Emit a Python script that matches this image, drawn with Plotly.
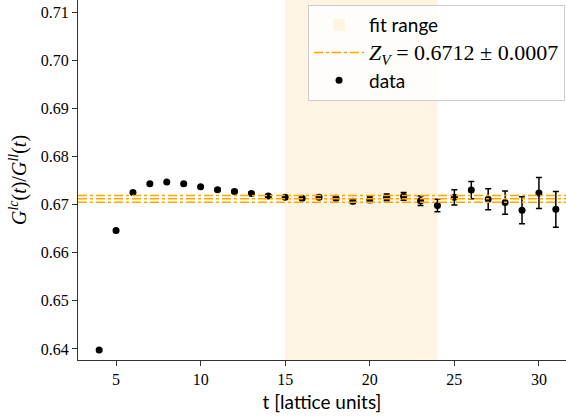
import plotly.graph_objects as go

t = list(range(4, 32))
ratio = [0.6398, 0.6646, 0.6725, 0.6743, 0.6747, 0.6743, 0.6737, 0.6731,
         0.6727, 0.6723, 0.6718, 0.6715, 0.6713, 0.6715, 0.6713, 0.6707,
         0.6710, 0.6715, 0.6717, 0.6708, 0.6698, 0.6715, 0.6730, 0.6711,
         0.6704, 0.6688, 0.6724, 0.6690]
err = [0.0002, 0.0002, 0.0002, 0.0002, 0.0002, 0.0002, 0.0002, 0.0003,
       0.0003, 0.0003, 0.0003, 0.0003, 0.0003, 0.0004, 0.0004, 0.0005,
       0.0006, 0.0007, 0.0008, 0.0010, 0.0013, 0.0016, 0.0018, 0.0022,
       0.0024, 0.0028, 0.0032, 0.0037]
fit_range = [15, 24]
ZV = 0.6712
ZV_err = 0.0007

ORANGE = "#ffa500"
SHADE = "#fdf4e3"
serif = "Liberation Serif"
sans = "Lato"

fig = go.Figure()

# fit range shading
fig.add_shape(type="rect", xref="x", yref="paper", x0=fit_range[0], x1=fit_range[1],
              y0=0, y1=1, fillcolor=SHADE, line=dict(width=0), layer="below",
              showlegend=True, name="fit range", legendrank=1)

# Z_V band lines
for val in [ZV + ZV_err, ZV, ZV - ZV_err]:
    fig.add_shape(type="line", xref="paper", yref="y", x0=0, x1=1, y0=val, y1=val,
                  line=dict(color=ORANGE, width=1.5, dash="dashdot"), layer="above")

# legend entry for Z_V
fig.add_trace(go.Scatter(x=[None], y=[None], mode="lines", legendrank=2,
                         line=dict(color=ORANGE, width=1.5, dash="dashdot"),
                         name=f"<span style='font-family:{serif};font-size:22px'><i>Z<sub>V</sub></i> = {ZV:.4f} ± {ZV_err:.4f}</span>"))

fig.add_trace(go.Scatter(x=t, y=ratio, mode="markers", name="data", legendrank=3,
                         marker=dict(color="black", size=7),
                         error_y=dict(type="data", array=err, color="black",
                                      thickness=1.5, width=3)))

fig.update_layout(
    width=566, height=419,
    margin=dict(l=78, r=0, t=0, b=59),
    paper_bgcolor="white", plot_bgcolor="white",
    showlegend=True,
    legend=dict(x=0.998, y=0.986, xanchor="right", yanchor="top",
                bgcolor="rgba(255,255,255,0.8)", bordercolor="#cccccc", borderwidth=1,
                font=dict(family=sans, size=19, color="black"),
                itemwidth=50, tracegroupgap=4),
    xaxis=dict(range=[2.75, 31.6], tickvals=[5, 10, 15, 20, 25, 30],
               ticks="outside", ticklen=5, tickcolor="#333", showline=True,
               linecolor="#333", linewidth=1.2, showgrid=False, zeroline=False,
               tickfont=dict(family=serif, size=16, color="black"),
               title=dict(text="t [lattice units]", font=dict(family=sans, size=19, color="black"),
                          standoff=8)),
    yaxis=dict(range=[0.6377, 0.7125], tickvals=[0.64, 0.65, 0.66, 0.67, 0.68, 0.69, 0.70, 0.71],
               ticktext=["0.64", "0.65", "0.66", "0.67", "0.68", "0.69", "0.70", "0.71"],
               ticks="outside", ticklen=5, tickcolor="#333", showline=True,
               linecolor="#333", linewidth=1.2, showgrid=False, zeroline=False,
               tickfont=dict(family=serif, size=16, color="black"),
               title=dict(text="<i>G</i><sup><i>lc</i></sup>(<i>t</i>)/<i>G</i><sup><i>ll</i></sup>(<i>t</i>)",
                          font=dict(family=serif, size=20, color="black"), standoff=8)),
)

fig.write_html("out.html", config={"displayModeBar": False},
               post_script="document.body.style.margin='0';document.body.style.overflow='hidden';")
